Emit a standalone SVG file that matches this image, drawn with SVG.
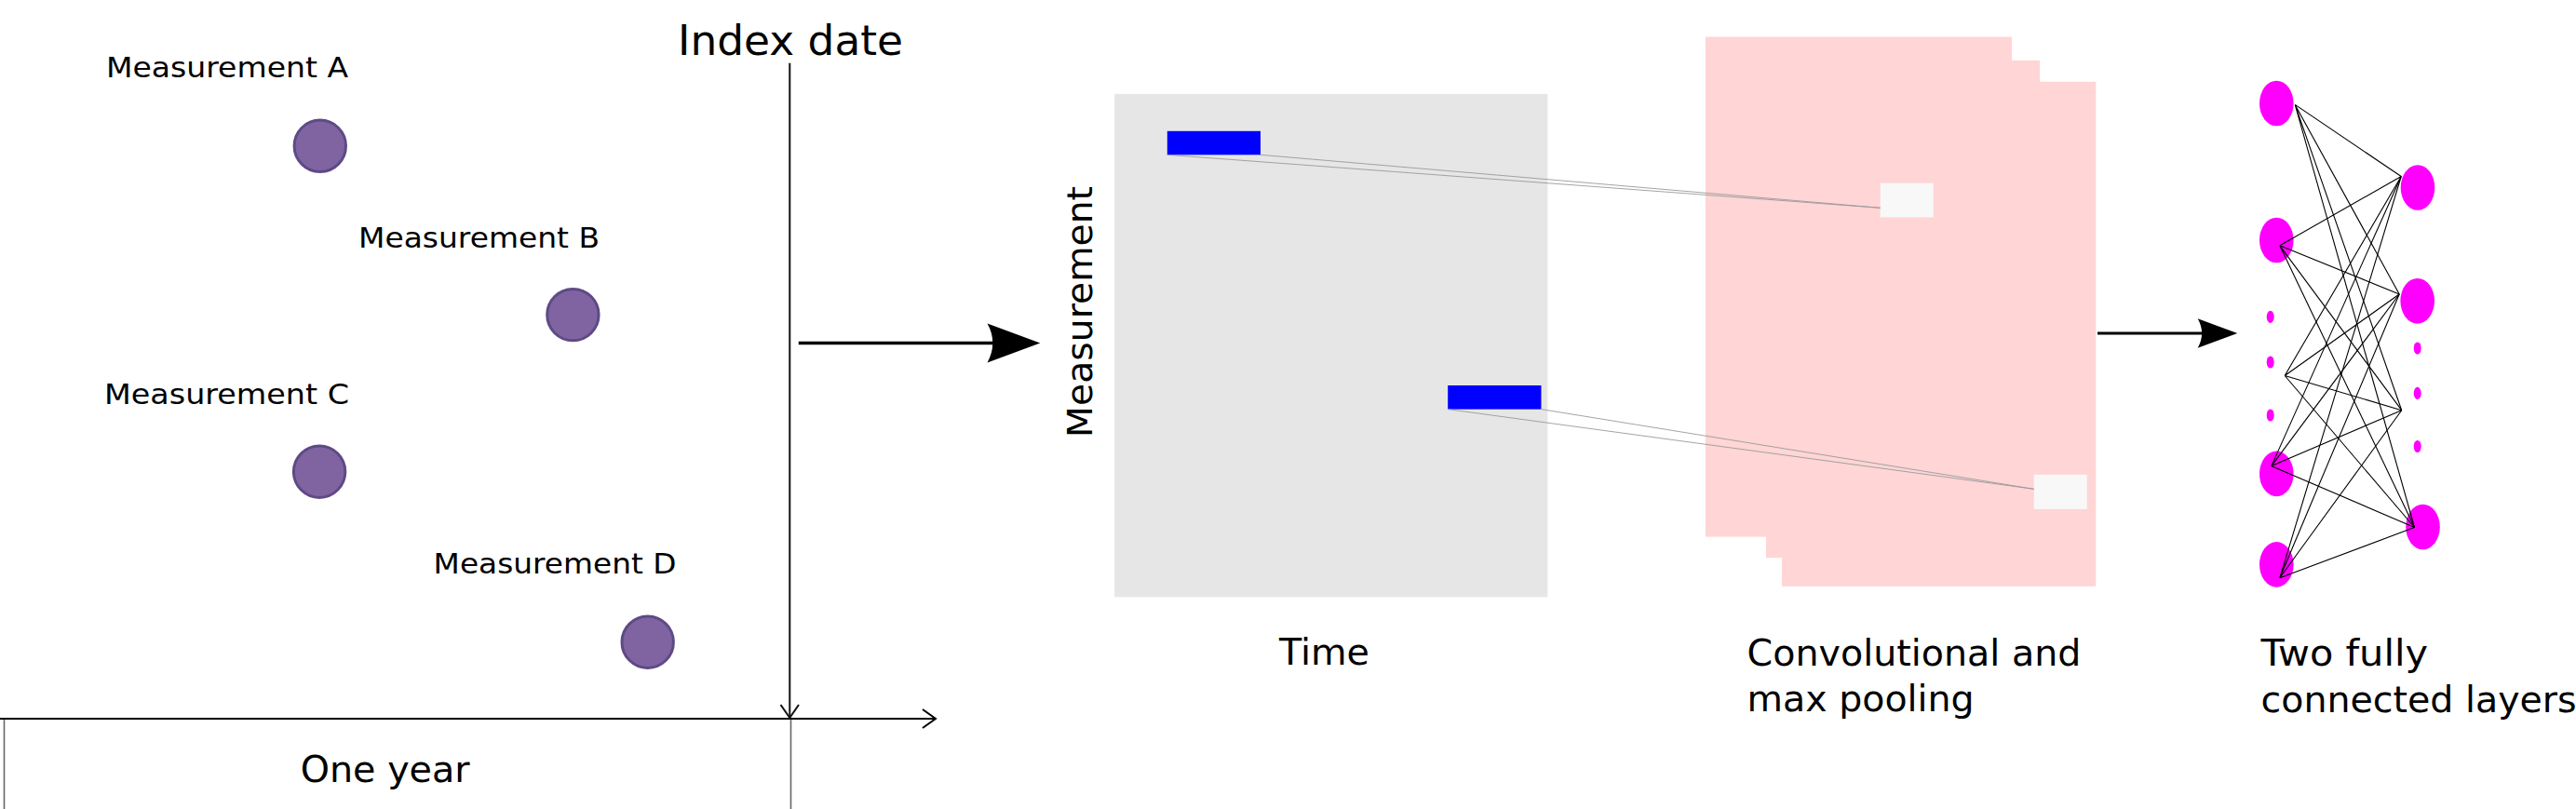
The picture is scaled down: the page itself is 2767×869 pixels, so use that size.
<svg xmlns="http://www.w3.org/2000/svg" width="2767" height="869" viewBox="0 0 2767 869">
<style>
text{font-family:"DejaVu Sans","Verdana",sans-serif;fill:#000}
.meas{font-size:30.6px}
.lbl{font-size:39.5px}
.dot{fill:#8064a2;stroke:#5e4a85;stroke-width:3}
.node{fill:#ff00ff}
.fc{stroke:#000;stroke-width:1.1;fill:none}
.proj{stroke:#9a9a9a;stroke-width:0.9;fill:none}
.pink{fill:#ffd5d5}
.white{fill:#f8f8f8}
.blue{fill:#0000ff}
</style>
<rect width="2767" height="869" fill="#fff"/>

<g id="timeline">
  <line x1="0" y1="772" x2="1005" y2="772" stroke="#000" stroke-width="2.2"/>
  <polyline points="991,762 1005,772 991,782" fill="none" stroke="#000" stroke-width="2"/>
  <line x1="4.5" y1="773" x2="4.5" y2="869" stroke="#666" stroke-width="1.6"/>
  <line x1="849.5" y1="773" x2="849.5" y2="869" stroke="#666" stroke-width="1.6"/>
  <text class="lbl" x="322.7" y="840" textLength="182" lengthAdjust="spacingAndGlyphs">One year</text>
</g>

<g id="index-date">
  <line x1="848.3" y1="67.7" x2="848.3" y2="770" stroke="#111" stroke-width="2"/>
  <polyline points="838.5,757 848.3,771 858,757" fill="none" stroke="#111" stroke-width="2"/>
  <text x="728" y="59" font-size="45" textLength="242" lengthAdjust="spacingAndGlyphs">Index date</text>
</g>

<g id="measurement-a">
  <text class="meas" x="114" y="83" textLength="260" lengthAdjust="spacingAndGlyphs">Measurement A</text>
  <circle class="dot" cx="343.8" cy="156.8" r="27.7"/>
</g>
<g id="measurement-b">
  <text class="meas" x="385" y="266" textLength="259" lengthAdjust="spacingAndGlyphs">Measurement B</text>
  <circle class="dot" cx="615.4" cy="338.1" r="27.7"/>
</g>
<g id="measurement-c">
  <text class="meas" x="112" y="434" textLength="263" lengthAdjust="spacingAndGlyphs">Measurement C</text>
  <circle class="dot" cx="343.1" cy="506.7" r="27.7"/>
</g>
<g id="measurement-d">
  <text class="meas" x="465.6" y="616.4" textLength="261" lengthAdjust="spacingAndGlyphs">Measurement D</text>
  <circle class="dot" cx="695.7" cy="689.7" r="27.7"/>
</g>

<g id="input-matrix">
  <rect x="1197.2" y="100.9" width="465.2" height="540.5" fill="#e6e6e6"/>
  <rect class="blue" x="1253.8" y="140.8" width="100.2" height="25.5"/>
  <rect class="blue" x="1555.2" y="414" width="100.3" height="25.6"/>
  <text font-size="38" transform="translate(1172.5,470) rotate(-90)" textLength="270" lengthAdjust="spacingAndGlyphs">Measurement</text>
  <text class="lbl" x="1374" y="714" textLength="97" lengthAdjust="spacingAndGlyphs">Time</text>
</g>

<g id="conv-pool">
  <rect class="pink" x="1832" y="39.6" width="329" height="537"/>
  <rect class="pink" x="1897" y="64.9" width="294" height="534.3"/>
  <rect class="pink" x="1914" y="87.8" width="337.3" height="542"/>
  <rect class="white" x="2019.7" y="196.7" width="57" height="36.8"/>
  <rect class="white" x="2184.7" y="509.8" width="57" height="37.2"/>
  <text class="lbl" x="1876.6" y="715" textLength="358.8" lengthAdjust="spacingAndGlyphs">Convolutional and</text>
  <text class="lbl" x="1876.6" y="764" textLength="244" lengthAdjust="spacingAndGlyphs">max pooling</text>
</g>

<g id="fully-connected">
  <ellipse class="node" cx="2445.3" cy="111" rx="18.3" ry="24.3"/>
  <ellipse class="node" cx="2445.3" cy="258" rx="18.3" ry="24.3"/>
  <ellipse class="node" cx="2445.3" cy="508.9" rx="18.3" ry="24.3"/>
  <ellipse class="node" cx="2445.3" cy="606.4" rx="18.3" ry="24.3"/>
  <ellipse class="node" cx="2438.7" cy="340.4" rx="4" ry="6.6"/>
  <ellipse class="node" cx="2438.7" cy="389" rx="4" ry="6.6"/>
  <ellipse class="node" cx="2438.7" cy="446" rx="4" ry="6.6"/>
  <ellipse class="node" cx="2597" cy="201.5" rx="18.3" ry="24.3"/>
  <ellipse class="node" cx="2596.7" cy="323.2" rx="18.3" ry="24.3"/>
  <ellipse class="node" cx="2602.5" cy="566" rx="18.3" ry="24.3"/>
  <ellipse class="node" cx="2596.7" cy="374" rx="4" ry="6.6"/>
  <ellipse class="node" cx="2596.7" cy="422.4" rx="4" ry="6.6"/>
  <ellipse class="node" cx="2596.7" cy="479.5" rx="4" ry="6.6"/>
  <text class="lbl" x="2428.6" y="715" textLength="179.4" lengthAdjust="spacingAndGlyphs">Two fully</text>
  <text class="lbl" x="2428.6" y="765">connected layers</text>
</g>

<g id="connectors">
  <line x1="857.8" y1="368.5" x2="1068" y2="368.5" stroke="#000" stroke-width="3.6"/>
  <path d="M1117.3,368.5 L1060.6,347.6 Q1072,368.5 1060.6,389.4 Z" fill="#000"/>
  <line x1="2253" y1="358" x2="2368" y2="358" stroke="#000" stroke-width="3"/>
  <path d="M2403.3,358 L2360.7,342.3 Q2369.5,358 2360.7,373.7 Z" fill="#000"/>
  <g class="proj">
    <line x1="1253.8" y1="166.3" x2="2019.7" y2="223.3"/>
    <line x1="1354" y1="166.3" x2="2019.7" y2="223.3"/>
    <line x1="1555.2" y1="439.6" x2="2184.7" y2="525.3"/>
    <line x1="1655.5" y1="439.6" x2="2184.7" y2="525.3"/>
  </g>
  <g class="fc">
    <path d="M2465.2,112.4 L2579.2,189.5 M2465.2,112.4 L2577.2,316 M2465.2,112.4 L2579.7,440.7 M2465.2,112.4 L2593.5,566.5"/>
    <path d="M2448.8,263.8 L2579.2,189.5 M2448.8,263.8 L2577.2,316 M2448.8,263.8 L2579.7,440.7 M2448.8,263.8 L2593.5,566.5"/>
    <path d="M2454.2,403.5 L2579.2,189.5 M2454.2,403.5 L2577.2,316 M2454.2,403.5 L2579.7,440.7 M2454.2,403.5 L2593.5,566.5"/>
    <path d="M2439.8,500.6 L2579.2,189.5 M2439.8,500.6 L2577.2,316 M2439.8,500.6 L2579.7,440.7 M2439.8,500.6 L2593.5,566.5"/>
    <path d="M2448.8,620.8 L2579.2,189.5 M2448.8,620.8 L2577.2,316 M2448.8,620.8 L2579.7,440.7 M2448.8,620.8 L2593.5,566.5"/>
  </g>
</g>
</svg>
